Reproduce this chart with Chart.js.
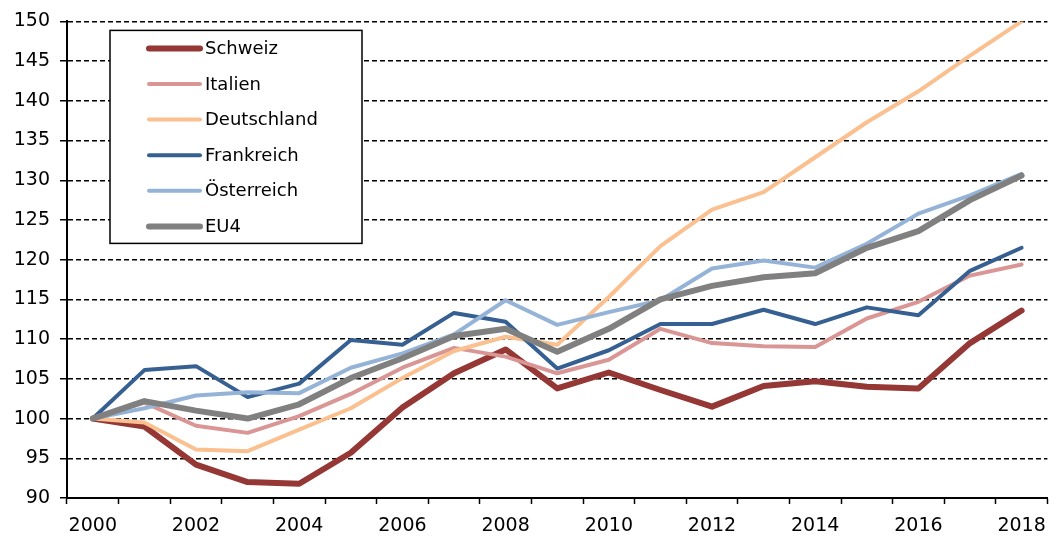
<!DOCTYPE html>
<html>
<head>
<meta charset="utf-8">
<script src="https://cdn.jsdelivr.net/npm/chart.js@4"></script>
<style>
  body { margin: 0; background: #fff; }
</style>
</head>
<body>
<canvas id="chart" width="1057" height="536"></canvas>
<script>
// Years on the x axis
const years = ['2000', '2001', '2002', '2003', '2004', '2005', '2006', '2007', '2008', '2009',
    '2010', '2011', '2012', '2013', '2014', '2015', '2016', '2017', '2018'];

// Index values (2000 = 100)
const schweiz = [100, 99.0, 94.2, 92.0, 91.8, 95.7, 101.4, 105.7, 108.7, 103.8,
    105.8, 103.6, 101.5, 104.1, 104.7, 104.0, 103.8, 109.5, 113.6];
const italien = [100, 102.0, 99.1, 98.2, 100.3, 103.1, 106.4, 108.9, 107.8, 105.7,
    107.4, 111.3, 109.5, 109.1, 109.0, 112.6, 114.7, 118.0, 119.4];
const deutschland = [100, 99.5, 96.1, 95.9, 98.6, 101.3, 105.1, 108.5, 110.3, 109.3,
    115.3, 121.7, 126.3, 128.5, 132.9, 137.3, 141.2, 145.7, 150.0];
const frankreich = [100, 106.1, 106.6, 102.7, 104.4, 109.9, 109.3, 113.3, 112.2, 106.3,
    108.6, 111.9, 111.9, 113.7, 111.9, 114.0, 113.0, 118.6, 121.5];
const oesterreich = [100, 101.3, 102.9, 103.3, 103.2, 106.4, 108.2, 110.6, 114.9, 111.8,
    113.4, 114.9, 118.9, 119.9, 119.0, 122.0, 125.8, 128.1, 130.8];
const eu4 = [100, 102.2, 101.0, 100.0, 101.8, 105.1, 107.6, 110.4, 111.3, 108.4,
    111.3, 115.0, 116.7, 117.8, 118.3, 121.5, 123.6, 127.5, 130.6];

// Y axis range
const yMin = 90;
const yMax = 150;
const yStep = 5;

const FONT = 'DejaVu Sans';

function line(label, data, color, width, order) {
    return {
        label: label,
        data: data,
        borderColor: color,
        backgroundColor: color,
        borderWidth: width,
        pointRadius: 0,
        tension: 0,
        borderCapStyle: 'round',
        borderJoinStyle: 'round',
        order: order,
    };
}

// Legend drawn as a framed box inside the plot, like the original
const boxLegend = {
    id: 'boxLegend',
    afterDraw(chart) {
        const ctx = chart.ctx;
        const area = chart.chartArea;
        const x = area.left + 43;
        const y = area.top + 9;
        const w = 252;
        const h = 213;
        ctx.save();
        ctx.fillStyle = '#fff';
        ctx.fillRect(x, y, w, h);
        ctx.strokeStyle = '#000';
        ctx.lineWidth = 1.5;
        ctx.strokeRect(x, y, w, h);
        ctx.font = '18px "' + FONT + '"';
        ctx.textBaseline = 'middle';
        ctx.textAlign = 'left';
        chart.data.datasets.forEach((ds, i) => {
            const ry = y + 18 + i * 35.6;
            ctx.strokeStyle = ds.borderColor;
            ctx.lineWidth = ds.borderWidth;
            ctx.lineCap = 'round';
            ctx.beginPath();
            ctx.moveTo(x + 39, ry);
            ctx.lineTo(x + 90, ry);
            ctx.stroke();
            ctx.fillStyle = '#000';
            ctx.fillText(ds.label, x + 95, ry + 1);
        });
        ctx.restore();
    },
};

const ctx = document.getElementById('chart').getContext('2d');
new Chart(ctx, {
    type: 'line',
    data: {
        labels: years,
        datasets: [
            line('Schweiz', schweiz, '#953735', 6, 6),
            line('Italien', italien, '#d99694', 4, 5),
            line('Deutschland', deutschland, '#fac090', 4, 4),
            line('Frankreich', frankreich, '#376092', 4, 3),
            line('Österreich', oesterreich, '#95b3d7', 4, 2),
            line('EU4', eu4, '#808080', 6, 1),
        ],
    },
    options: {
        responsive: false,
        animation: false,
        layout: { padding: { top: 21, right: 8, left: 0, bottom: 0 } },
        plugins: {
            legend: { display: false },
            tooltip: { enabled: false },
        },
        scales: {
            x: {
                offset: true,
                grid: {
                    offset: true,
                    drawOnChartArea: false,
                    drawTicks: true,
                    tickLength: 6,
                    tickColor: '#000',
                    tickWidth: 1.5,
                },
                border: { display: true, color: '#000', width: 2 },
                ticks: {
                    autoSkip: false,
                    maxRotation: 0,
                    color: '#000',
                    padding: 11,
                    font: { family: FONT, size: 19 },
                    callback: function (value, index) {
                        return index % 2 === 0 ? this.getLabelForValue(value) : '';
                    },
                },
                afterFit(scale) { scale.height = 38; },
            },
            y: {
                min: yMin,
                max: yMax,
                grid: {
                    color: '#000',
                    lineWidth: 1.5,
                    tickLength: 7,
                    tickColor: '#000',
                    tickWidth: 1.5,
                },
                border: { display: true, color: '#000', width: 2, dash: [5, 3] },
                ticks: {
                    stepSize: yStep,
                    color: '#000',
                    padding: 10,
                    font: { family: FONT, size: 19 },
                },
                afterFit(scale) { scale.width = 67; },
            },
        },
    },
    plugins: [boxLegend],
});
</script>
</body>
</html>
